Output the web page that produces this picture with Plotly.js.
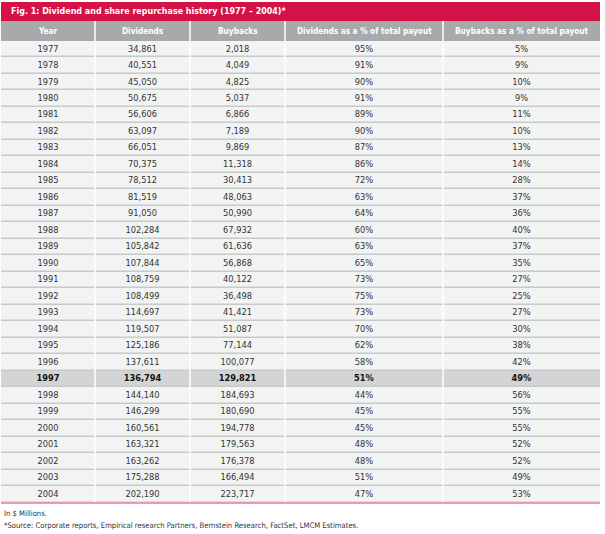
<!DOCTYPE html>
<html>
<head>
<meta charset="utf-8">
<script src="https://cdn.plot.ly/plotly-3.0.1.min.js"></script>
<style>html,body{margin:0;padding:0;background:#fff;}#chart{width:605px;height:534px;}</style>
</head>
<body>
<div id="chart"></div>
<script>
const titleText = "Fig. 1: Dividend and share repurchase history (1977 \u2013 2004)*";
const headers = ["Year", "Dividends", "Buybacks", "Dividends as a % of total payout", "Buybacks as a % of total payout"];
const years = [1977,1978,1979,1980,1981,1982,1983,1984,1985,1986,1987,1988,1989,1990,1991,1992,1993,1994,1995,1996,1997,1998,1999,2000,2001,2002,2003,2004];
const dividends = [34861,40551,45050,50675,56606,63097,66051,70375,78512,81519,91050,102284,105842,107844,108759,108499,114697,119507,125186,137611,136794,144140,146299,160561,163321,163262,175288,202190];
const buybacks = [2018,4049,4825,5037,6866,7189,9869,11318,30413,48063,50990,67932,61636,56868,40122,36498,41421,51087,77144,100077,129821,184693,180690,194778,179563,176378,166494,223717];
const divPct = [95,91,90,91,89,90,87,86,72,63,64,60,63,65,73,75,73,70,62,58,51,44,45,45,48,48,51,47];
const buyPct = [5,9,10,9,11,10,13,14,28,37,36,40,37,35,27,25,27,30,38,42,49,56,55,55,52,52,49,53];
const highlightYear = 1997;
const footNotes = ["In $ Millions.", "*Source: Corporate reports, Empirical research Partners, Bernstein Research, FactSet, LMCM Estimates."];

const W = 605, H = 534;

// pick a condensed font if one is installed
const canvas = document.createElement('canvas');
const ctx = canvas.getContext('2d');
function textWidth(str, fam, size, bold) {
  ctx.font = (bold ? 'bold ' : '') + size + 'px ' + fam;
  return ctx.measureText(str).width;
}
function hasFont(name) {
  const s = 'abcdefghijklmnopqrstuvwxyz0123456789';
  return textWidth(s, '"' + name + '", monospace', 20) !== textWidth(s, 'monospace', 20) ||
         textWidth(s, '"' + name + '", serif', 20) !== textWidth(s, 'serif', 20);
}
const candidates = ['Liberation Sans Narrow', 'DejaVu Sans Condensed', 'Arial Narrow', 'Liberation Sans'];
let FAM = 'Liberation Sans';
for (const c of candidates) { if (hasFont(c)) { FAM = c; break; } }
const FONT = '"' + FAM + '", sans-serif';
function fitSize(str, targetW, maxSize, bold) {
  const w = textWidth(str, FONT, 10, bold);
  return Math.min(maxSize, 10 * targetW / w);
}
const titleSize = fitSize(titleText, 275, 11.5, true);
const headSize = fitSize(headers[3], 135, 10.5, true);
const bodySize = fitSize('34,861', 29, 10.5, false);
const footSize = fitSize(footNotes[1], 355, 9, false);

// geometry (pixels)
const colEdges = [1, 95, 190, 285, 443, 600];
const colCenters = colEdges.slice(0, -1).map((e, i) => (e + colEdges[i + 1]) / 2);
const titleTop = 2, titleBot = 21, headBot = 41, bodyBot = 502.5;
const nRows = years.length;
const px2x = p => p / W;
const py2y = p => 1 - p / H;

const fmt = v => v.toLocaleString('en-US');
const isHL = years.map(y => y === highlightYear);
const cols = [
  years.map(String),
  dividends.map(fmt),
  buybacks.map(fmt),
  divPct.map(v => v + '%'),
  buyPct.map(v => v + '%')
];
const rowIdx = years.map((_, i) => i);

const traces = [];
// cell fills
traces.push({
  type: 'heatmap',
  x: colEdges,
  y: rowIdx,
  z: rowIdx.map(i => colCenters.map(() => isHL[i] ? 1 : 0)),
  colorscale: [[0, '#f2f3f3'], [1, '#d3d4d5']],
  zmin: 0, zmax: 1,
  showscale: false,
  ygap: 1.5,
  hoverinfo: 'skip'
});
// cell texts
cols.forEach((vals, c) => {
  traces.push({
    type: 'scatter', mode: 'text',
    x: vals.map(() => colCenters[c]),
    y: rowIdx,
    text: vals.map((s, i) => isHL[i] ? '<b>' + s + '</b>' : s),
    textposition: 'middle center',
    textfont: {family: FONT, size: bodySize, color: rowIdx.map(i => isHL[i] ? '#111111' : '#333333')},
    hoverinfo: 'skip', showlegend: false, cliponaxis: false
  });
});

const shapes = [];
// title bar
shapes.push({type: 'rect', xref: 'paper', yref: 'paper', x0: px2x(1), x1: px2x(600), y0: py2y(titleBot), y1: py2y(titleTop), fillcolor: '#d31245', line: {width: 0}, layer: 'above'});
// header bar
shapes.push({type: 'rect', xref: 'paper', yref: 'paper', x0: px2x(1), x1: px2x(600), y0: py2y(headBot), y1: py2y(titleBot), fillcolor: '#a8a9ab', line: {width: 0}, layer: 'above'});
// vertical white separators
colEdges.slice(1, -1).forEach(e => {
  shapes.push({type: 'line', xref: 'x', yref: 'paper', x0: e, x1: e, y0: py2y(bodyBot), y1: py2y(titleBot), line: {color: '#ffffff', width: 1.5}, layer: 'above'});
});
// bottom pink rule
shapes.push({type: 'line', xref: 'paper', yref: 'paper', x0: px2x(1), x1: px2x(600), y0: py2y(bodyBot + 0.5), y1: py2y(bodyBot + 0.5), line: {color: '#e57c9b', width: 1.5}, layer: 'above'});

const annotations = [
  {text: '<b>' + titleText + '</b>', xref: 'paper', yref: 'paper', x: px2x(9), y: py2y(11.5), xanchor: 'left', yanchor: 'middle', showarrow: false, font: {family: FONT, size: titleSize, color: '#ffffff'}},
  {text: footNotes[0], xref: 'paper', yref: 'paper', x: px2x(2), y: py2y(513), xanchor: 'left', yanchor: 'middle', showarrow: false, font: {family: FONT, size: footSize, color: '#333333'}},
  {text: footNotes[1], xref: 'paper', yref: 'paper', x: px2x(2), y: py2y(525), xanchor: 'left', yanchor: 'middle', showarrow: false, font: {family: FONT, size: footSize, color: '#333333'}}
];
headers.forEach((h, c) => {
  annotations.push({text: '<b>' + h + '</b>', xref: 'x', yref: 'paper', x: colCenters[c], y: py2y((titleBot + headBot) / 2), xanchor: 'center', yanchor: 'middle', showarrow: false, font: {family: FONT, size: headSize, color: '#ffffff'}});
});

Plotly.newPlot('chart', traces, {
  width: W, height: H,
  margin: {l: 0, r: 0, t: 0, b: 0},
  paper_bgcolor: '#ffffff',
  plot_bgcolor: '#c9c9c9',
  xaxis: {domain: [px2x(1), px2x(600)], range: [1, 600], visible: false, fixedrange: true},
  yaxis: {domain: [py2y(bodyBot), py2y(headBot)], range: [nRows - 0.5, -0.5], visible: false, fixedrange: true},
  shapes: shapes,
  annotations: annotations,
  showlegend: false
}, {displayModeBar: false, staticPlot: true});
</script>
</body>
</html>
